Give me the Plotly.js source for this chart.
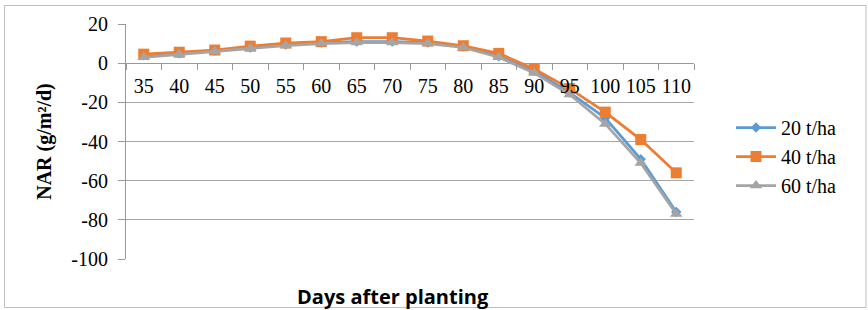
<!DOCTYPE html>
<html><head><meta charset="utf-8">
<script src="https://cdn.plot.ly/plotly-3.0.1.min.js"></script>
<style>html,body{margin:0;padding:0;background:#fff}#c{width:868px;height:310px}</style>
</head><body><div id="c"></div>
<script>
const days = ["35","40","45","50","55","60","65","70","75","80","85","90","95","100","105","110"];
const nar20 = [4, 5, 6.5, 8, 9.5, 10.5, 11, 11, 10.5, 8.5, 3.5, -4, -15, -28, -49, -76];
const nar40 = [4.6, 5.6, 6.7, 8.7, 10.3, 11, 13, 13, 11.3, 8.9, 5, -3, -13, -25, -39, -56];
const nar60 = [3, 4.5, 6, 7.5, 9, 10, 10.5, 10.5, 10, 8, 3, -5, -16, -31, -51, -77];
const seriesNames = ["20 t/ha", "40 t/ha", "60 t/ha"];
const yTicks = [20, 0, -20, -40, -60, -80, -100];

const W = 868, H = 310, L = 126, R = 694, T = 24, B = 259;
const px = v => (v - L) / (R - L);
const py = v => (B - v) / (B - T);
const SERIF = 'Liberation Serif';

const traces = [
  {x: days, y: nar20, name: seriesNames[0], type: 'scatter', mode: 'lines+markers',
   line: {color: '#5b9bd5', width: 2.75}, marker: {symbol: 'diamond', size: 8, color: '#5b9bd5'}},
  {x: days, y: nar40, name: seriesNames[1], type: 'scatter', mode: 'lines+markers',
   line: {color: '#ed7d31', width: 2.75}, marker: {symbol: 'square', size: 11, color: '#ed7d31'}},
  {x: days, y: nar60, name: seriesNames[2], type: 'scatter', mode: 'lines+markers',
   line: {color: '#a5a5a5', width: 2.75}, marker: {symbol: 'triangle-up', size: 11, color: '#a5a5a5'}}
];

const layout = {
  width: W, height: H,
  margin: {l: L, r: W - R, t: T, b: H - B, pad: 0},
  paper_bgcolor: '#fff', plot_bgcolor: '#fff',
  font: {family: SERIF, size: 20, color: '#000'},
  showlegend: true,
  legend: {x: px(731), y: py(156.5), xanchor: 'left', yanchor: 'middle', bgcolor: 'rgba(0,0,0,0)',
           font: {family: SERIF, size: 20, color: '#000'}, tracegroupgap: 0, itemwidth: 40},
  xaxis: {
    type: 'category', anchor: 'free', position: 100 / 120,
    ticks: 'outside', ticklen: 6, tickcolor: '#999', tickson: 'boundaries',
    ticklabelstandoff: 9, tickangle: 0,
    showgrid: false, showline: false, zeroline: false,
    tickfont: {family: SERIF, size: 20, color: '#000'},
    range: [-0.5, 15.5], fixedrange: true
  },
  yaxis: {
    range: [-100, 20], tickvals: yTicks, ticktext: yTicks.map(String),
    ticks: 'outside', ticklen: 7, tickcolor: '#999',
    ticklabelstandoff: 6,
    showgrid: true, gridcolor: '#a6a6a6', gridwidth: 1,
    zeroline: true, zerolinecolor: '#999', zerolinewidth: 1.2,
    showline: true, linecolor: '#999', linewidth: 1,
    tickfont: {family: SERIF, size: 20, color: '#000'},
    title: {text: 'NAR (g/m²/d)', standoff: 14,
            font: {family: SERIF, size: 20, weight: 'bold', color: '#000'}}
  },
  annotations: [
    {text: '<b>Days after planting</b>', xref: 'paper', yref: 'paper',
     x: px(393), y: py(296), xanchor: 'center', yanchor: 'middle', showarrow: false,
     font: {family: 'Open Sans', size: 20, color: '#000'}}
  ],
  shapes: [
    {type: 'rect', xref: 'paper', yref: 'paper', x0: px(4.5), x1: px(866), y0: py(307.5), y1: py(5.5),
     line: {color: '#bfbfbf', width: 1}, layer: 'below'}
  ]
};

Plotly.newPlot('c', traces, layout, {staticPlot: true, displayModeBar: false});
</script></body></html>
